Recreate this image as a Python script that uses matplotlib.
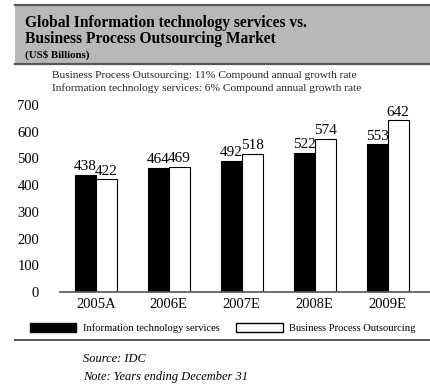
import numpy as np
import matplotlib.pyplot as plt
from matplotlib.patches import Rectangle, Patch
from matplotlib.lines import Line2D

# data
years = ['2005A', '2006E', '2007E', '2008E', '2009E']
it_services = [438, 464, 492, 522, 553]
bpo = [422, 469, 518, 574, 642]

plt.rcParams['font.family'] = ['Liberation Serif', 'DejaVu Serif']

W, H = 430, 387
fig = plt.figure(figsize=(4.3, 3.87), dpi=100)

def fx(px):
    return px / W

def fy(py):
    return 1 - py / H

# grey header box
fig.patches.append(Rectangle((fx(15), fy(64)), fx(415), (64 - 5) / H,
                             transform=fig.transFigure, facecolor='#b8b8b8',
                             edgecolor='none', zorder=0))
for yy in (5, 64):
    fig.add_artist(Line2D([fx(15), 1], [fy(yy), fy(yy)], color='#555555',
                          lw=1.6, transform=fig.transFigure))
fig.add_artist(Line2D([fx(15), 1], [fy(340), fy(340)], color='#555555',
                      lw=1.4, transform=fig.transFigure))

fig.text(fx(25), fy(23), 'Global Information technology services vs.',
         fontsize=11.2, fontweight='bold', va='center', ha='left')
fig.text(fx(25), fy(39), 'Business Process Outsourcing Market',
         fontsize=11.2, fontweight='bold', va='center', ha='left')
fig.text(fx(25), fy(55), '(US$ Billions)', fontsize=7.8, fontweight='bold',
         va='center', ha='left')

fig.text(fx(52), fy(76), 'Business Process Outsourcing: 11% Compound annual growth rate',
         fontsize=8.2, va='center', ha='left', color='#222222')
fig.text(fx(52), fy(88), 'Information technology services: 6% Compound annual growth rate',
         fontsize=8.2, va='center', ha='left', color='#222222')

ax = fig.add_axes([fx(60), fy(292), 1 - fx(60), (292 - 105) / H])
x = np.arange(len(years))
w = 0.29
b1 = ax.bar(x - w / 2, it_services, w, color='black', edgecolor='black', lw=0.8)
b2 = ax.bar(x + w / 2, bpo, w, color='white', edgecolor='black', lw=0.8)
for bars, vals in ((b1, it_services), (b2, bpo)):
    for r, v in zip(bars, vals):
        ax.text(r.get_x() + r.get_width() / 2, v + 6, str(v), ha='center',
                va='bottom', fontsize=11)

ax.set_ylim(0, 700)
ax.set_xlim(-0.49, 4.58)
ax.set_yticks(range(0, 701, 100))
ax.set_xticks(x)
ax.set_xticklabels(years)
ax.tick_params(length=0, labelsize=10.5, pad=4)
ax.tick_params(axis='y', pad=15)
for s in ('top', 'right', 'left'):
    ax.spines[s].set_visible(False)
ax.spines['bottom'].set_color('#555555')
ax.spines['bottom'].set_linewidth(1.2)
ax.patch.set_alpha(0)

handles = [Patch(facecolor='black', edgecolor='black'),
           Patch(facecolor='white', edgecolor='black')]
fig.legend(handles, ['Information technology services', 'Business Process Outsourcing'],
           loc='center left', bbox_to_anchor=(fx(30), fy(328)), ncol=2,
           frameon=False, fontsize=7.6, handlelength=4.4, handleheight=0.9,
           columnspacing=1.6, handletextpad=0.6, borderaxespad=0, borderpad=0)

fig.text(fx(83), fy(359), 'Source: IDC', fontsize=8.9, style='italic',
         va='center', ha='left')
fig.text(fx(83), fy(377), 'Note: Years ending December 31', fontsize=8.9,
         style='italic', va='center', ha='left')

plt.savefig('out.png', dpi=100)
